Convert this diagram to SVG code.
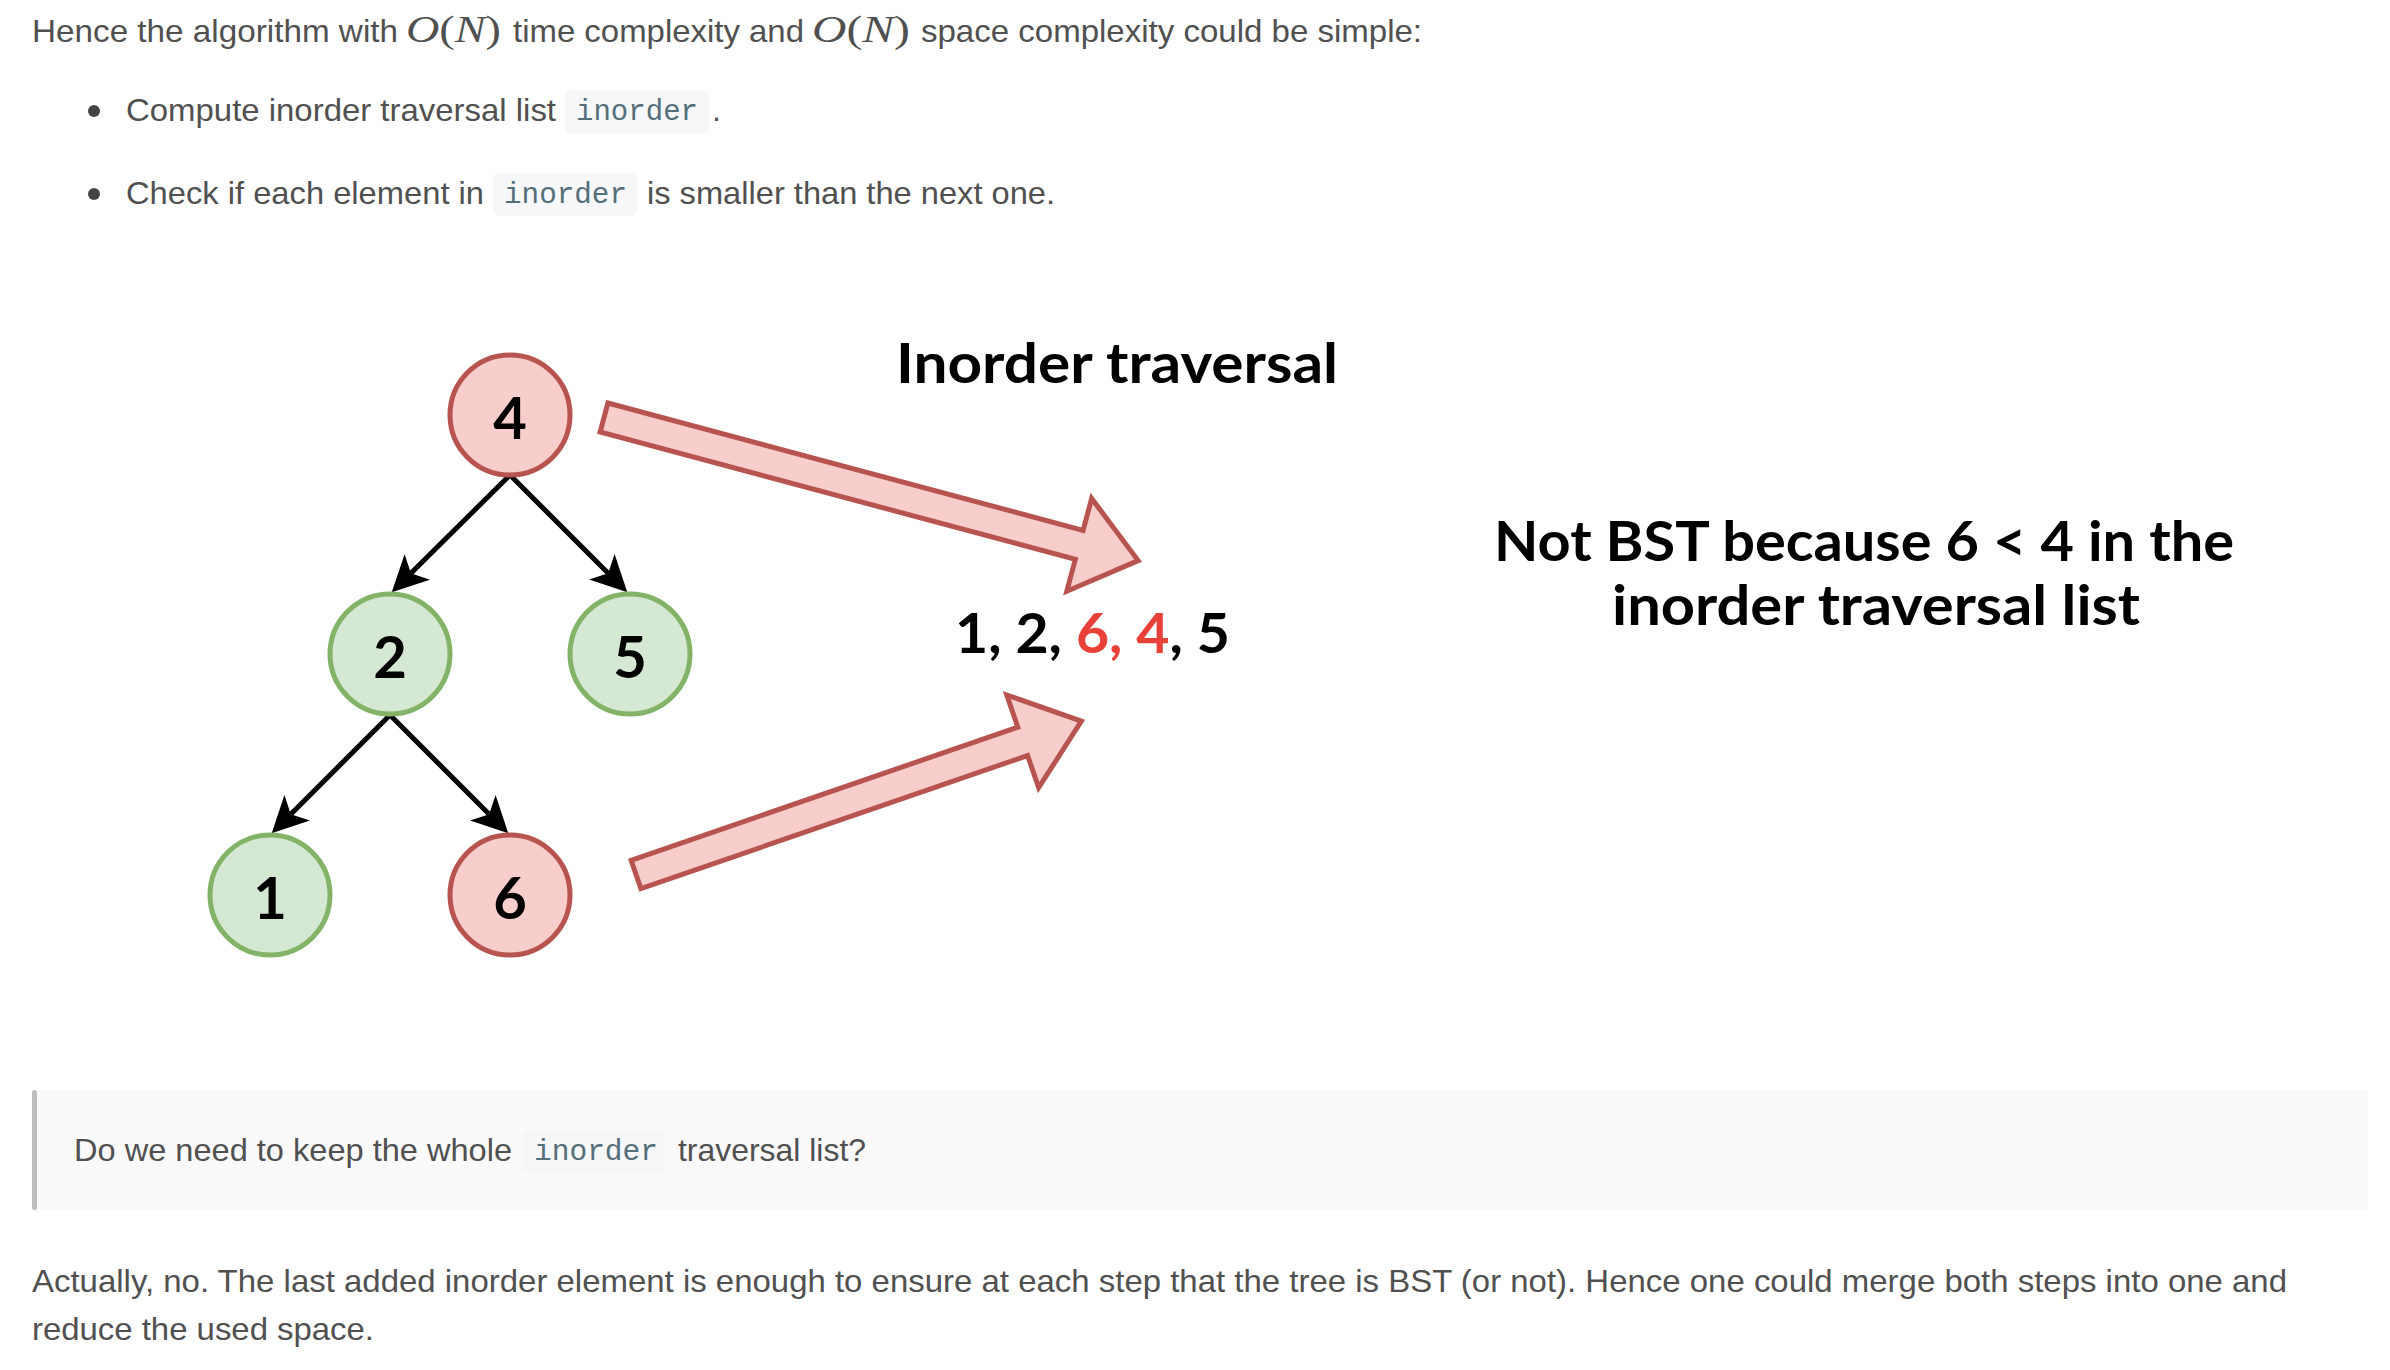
<svg xmlns="http://www.w3.org/2000/svg" width="2390" height="1370" viewBox="0 0 2390 1370">
<style>
.body{font-family:"Liberation Sans",Arial,sans-serif;font-size:32px;fill:#505050}
.code{font-family:"Liberation Mono","DejaVu Sans Mono",monospace;font-size:29px;fill:#546e7a}
.codebg{fill:#f5f7f8}
.math{font-family:"Liberation Serif","DejaVu Serif",serif;font-size:37px;fill:#505050}
.hand{font-family:Lato,"DejaVu Sans",sans-serif;font-weight:bold;fill:#000}
.red{fill:#f8cecc;stroke:#b85450;stroke-width:5}
.green{fill:#d5e8d4;stroke:#82b366;stroke-width:5}
.edge{stroke:#000;stroke-width:5;fill:none}
.big{fill:#f8cecc;stroke:#b85450;stroke-width:5;stroke-linejoin:miter}
</style>
<defs>
<marker id="ah" viewBox="0 -18 36 36" refX="9" refY="0" markerWidth="36" markerHeight="36" markerUnits="userSpaceOnUse" orient="auto">
<path d="M0,-18 L36,0 L0,18 L9,0 Z" fill="#000"/>
</marker>
</defs>
<rect width="2390" height="1370" fill="#fff"/>

<g id="intro">
<text class="body" x="32" y="42" textLength="366" lengthAdjust="spacingAndGlyphs">Hence the algorithm with</text>
<text class="math" x="406" y="42" textLength="95" lengthAdjust="spacingAndGlyphs"><tspan font-style="italic">O</tspan>(<tspan font-style="italic">N</tspan>)</text>
<text class="body" x="513" y="42" textLength="291" lengthAdjust="spacingAndGlyphs">time complexity and</text>
<text class="math" x="812" y="42" textLength="98" lengthAdjust="spacingAndGlyphs"><tspan font-style="italic">O</tspan>(<tspan font-style="italic">N</tspan>)</text>
<text class="body" x="921" y="42" textLength="501" lengthAdjust="spacingAndGlyphs">space complexity could be simple:</text>
</g>

<g id="bullet1">
<circle cx="94" cy="111" r="6" fill="#444"/>
<text class="body" x="126" y="121" textLength="430" lengthAdjust="spacingAndGlyphs">Compute inorder traversal list</text>
<rect class="codebg" x="565" y="90" width="145" height="43" rx="6"/>
<text class="code" x="576" y="120" textLength="122" lengthAdjust="spacingAndGlyphs">inorder</text>
<text class="body" x="712" y="121">.</text>
</g>

<g id="bullet2">
<circle cx="94" cy="194" r="6" fill="#444"/>
<text class="body" x="126" y="204" textLength="358" lengthAdjust="spacingAndGlyphs">Check if each element in</text>
<rect class="codebg" x="493" y="173" width="144" height="43" rx="6"/>
<text class="code" x="504" y="203" textLength="123" lengthAdjust="spacingAndGlyphs">inorder</text>
<text class="body" x="647" y="204" textLength="408" lengthAdjust="spacingAndGlyphs">is smaller than the next one.</text>
</g>

<g id="connectors">
<line class="edge" x1="510" y1="475" x2="410.9" y2="573.3" marker-end="url(#ah)"/>
<line class="edge" x1="510" y1="475" x2="608.2" y2="573.2" marker-end="url(#ah)"/>
<line class="edge" x1="390" y1="715" x2="290.8" y2="814.2" marker-end="url(#ah)"/>
<line class="edge" x1="390" y1="715" x2="489.2" y2="814.2" marker-end="url(#ah)"/>
<polygon class="big" transform="translate(604,417.5) rotate(15)" points="0,-15 492,-15 492,-48 553,0 492,48 492,15 0,15"/>
<polygon class="big" transform="translate(636,874.5) rotate(-19)" points="0,-15 409,-15 409,-49 471,0 409,49 409,15 0,15"/>
</g>

<g id="node4">
<circle class="red" cx="510" cy="415" r="60"/>
<text class="hand" x="510" y="439" font-size="58" text-anchor="middle">4</text>
</g>
<g id="node2">
<circle class="green" cx="390" cy="654" r="60"/>
<text class="hand" x="390" y="678" font-size="58" text-anchor="middle">2</text>
</g>
<g id="node5">
<circle class="green" cx="630" cy="654" r="60"/>
<text class="hand" x="630" y="678" font-size="58" text-anchor="middle">5</text>
</g>
<g id="node1">
<circle class="green" cx="270" cy="895" r="60"/>
<text class="hand" x="270" y="919" font-size="58" text-anchor="middle">1</text>
</g>
<g id="node6">
<circle class="red" cx="510" cy="895" r="60"/>
<text class="hand" x="510" y="919" font-size="58" text-anchor="middle">6</text>
</g>

<g id="title">
<text class="hand" x="896" y="383" font-size="56" textLength="442" lengthAdjust="spacingAndGlyphs">Inorder traversal</text>
</g>
<g id="list">
<text class="hand" x="955" y="653" font-size="55" textLength="275" lengthAdjust="spacingAndGlyphs">1, 2, <tspan fill="#e84139">6, 4</tspan>, 5</text>
</g>
<g id="note">
<text class="hand" x="1494" y="561" font-size="56" textLength="740" lengthAdjust="spacingAndGlyphs">Not BST because 6 &lt; 4 in the</text>
<text class="hand" x="1612" y="625" font-size="56" textLength="528" lengthAdjust="spacingAndGlyphs">inorder traversal list</text>
</g>

<g id="blockquote">
<rect x="32" y="1090" width="2336" height="120" rx="4" fill="#fafafa"/>
<rect x="32" y="1090" width="5" height="120" rx="2.5" fill="#bdbdbd"/>
<text class="body" x="74" y="1161" textLength="438" lengthAdjust="spacingAndGlyphs">Do we need to keep the whole</text>
<rect class="codebg" x="522" y="1130" width="143" height="43" rx="6" fill="#f3f5f6"/>
<text class="code" x="534" y="1160" textLength="124" lengthAdjust="spacingAndGlyphs">inorder</text>
<text class="body" x="678" y="1161" textLength="188" lengthAdjust="spacingAndGlyphs">traversal list?</text>
</g>

<g id="paragraph">
<text class="body" x="32" y="1292" textLength="2255" lengthAdjust="spacingAndGlyphs">Actually, no. The last added inorder element is enough to ensure at each step that the tree is BST (or not). Hence one could merge both steps into one and</text>
<text class="body" x="32" y="1340" textLength="342" lengthAdjust="spacingAndGlyphs">reduce the used space.</text>
</g>
</svg>
